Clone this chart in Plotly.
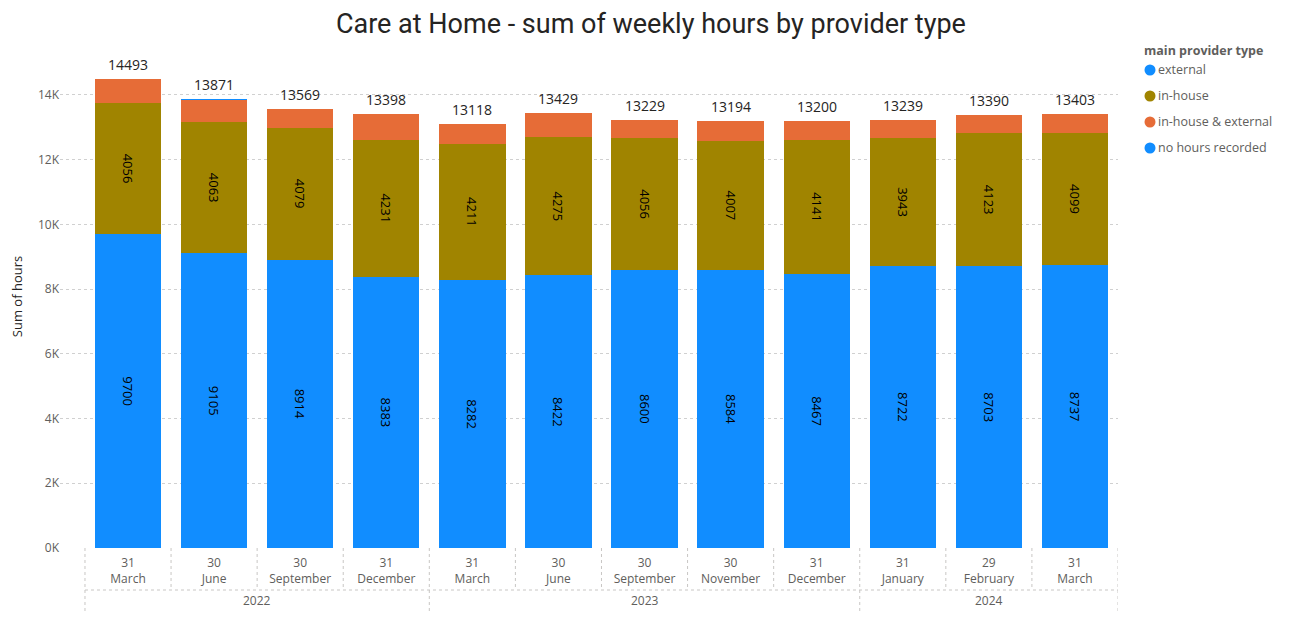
import plotly.graph_objects as go

# ---- data ----
years = ["2022", "2022", "2022", "2022", "2023", "2023", "2023", "2023", "2023", "2024", "2024", "2024"]
days = ["31", "30", "30", "31", "31", "30", "30", "30", "31", "31", "29", "31"]
months = ["March", "June", "September", "December", "March", "June", "September",
          "November", "December", "January", "February", "March"]
external = [9700, 9105, 8914, 8383, 8282, 8422, 8600, 8584, 8467, 8722, 8703, 8737]
in_house = [4056, 4063, 4079, 4231, 4211, 4275, 4056, 4007, 4141, 3943, 4123, 4099]
in_house_external = [737, 700, 576, 784, 625, 732, 573, 603, 592, 574, 564, 567]
no_hours = [0, 3, 0, 0, 0, 0, 0, 0, 0, 0, 0, 0]
series_names = ["external", "in-house", "in-house & external", "no hours recorded"]
y_ticks = [0, 2000, 4000, 6000, 8000, 10000, 12000, 14000]

totals = [a + b + c + d for a, b, c, d in zip(external, in_house, in_house_external, no_hours)]
x = list(range(len(months)))
labels = [f"{d}<br>{m}" for d, m in zip(days, months)]

BLUE = "#118DFF"
OLIVE = "#A08400"
ORANGE = "#E66C37"
GRAY = "#605E5C"
DARK = "#252423"
FONT = "Segoe UI, Open Sans, sans-serif"
colors = [BLUE, OLIVE, ORANGE, BLUE]

# figure geometry (page has an 8px body margin)
OFF = 8
W, H = 1290 - OFF, 619 - OFF
ML, MR, MT, MB = 52, 172, 37, 71
PW, PH = W - ML - MR, H - MT - MB


def px(xp):
    return (xp - OFF - ML) / PW


def py(yp):
    return (H - MB - (yp - OFF)) / PH


fig = go.Figure()
bar_w = 0.77
for vals, nm, col, lab in [(external, series_names[0], BLUE, True),
                           (in_house, series_names[1], OLIVE, True),
                           (in_house_external, series_names[2], ORANGE, False),
                           (no_hours, series_names[3], BLUE, False)]:
    fig.add_trace(go.Bar(x=x, y=vals, name=nm, marker_color=col, width=bar_w,
                         marker_line_width=0,
                         text=[str(v) for v in vals] if lab else None,
                         textposition="inside" if lab else "none",
                         insidetextanchor="middle", textangle=90,
                         textfont=dict(color="#000000", size=13, family=FONT),
                         showlegend=False))

annotations = []
for xi, t in zip(x, totals):
    annotations.append(dict(x=xi, y=t, xref="x", yref="y", text=str(t), showarrow=False,
                            yanchor="bottom", yshift=3,
                            font=dict(size=14, color=DARK, family=FONT)))

# x-axis hierarchical labels / dividers
shapes = []
n = len(x)
for i in range(n + 1):
    pos = i - 0.5
    is_year_edge = i == 0 or i == n or years[i] != years[i - 1]
    shapes.append(dict(type="line", xref="x", yref="paper", x0=pos, x1=pos,
                       y0=0, y1=py(612) if is_year_edge else py(590),
                       line=dict(color="#C8C6C4", width=1, dash="dot")))
shapes.append(dict(type="line", xref="x", yref="paper", x0=-0.5, x1=n - 0.5,
                   y0=py(590), y1=py(590), line=dict(color="#C8C6C4", width=1, dash="dot")))
# frame line at the right
shapes.append(dict(type="line", xref="paper", yref="paper", x0=px(1284), x1=px(1284),
                   y0=py(617), y1=py(9), line=dict(color="#A0A0A0", width=1.5)))

seen = []
for yv in years:
    if yv not in seen:
        seen.append(yv)
for yv in seen:
    idx = [i for i, v in enumerate(years) if v == yv]
    annotations.append(dict(x=sum(idx) / len(idx), y=py(600), xref="x", yref="paper",
                            yanchor="middle", text=yv, showarrow=False,
                            font=dict(size=12, color=GRAY, family=FONT)))

# manual legend
annotations.append(dict(x=px(1142), y=py(50), xref="paper", yref="paper", xanchor="left",
                        yanchor="middle", text="<b>main provider type</b>", showarrow=False,
                        font=dict(size=12.5, color=GRAY, family=FONT)))
for k, (nm, col) in enumerate(zip(series_names, colors)):
    yy = 70 + 26 * k
    shapes.append(dict(type="circle", xref="paper", yref="paper", xsizemode="pixel",
                       ysizemode="pixel", xanchor=px(1150), yanchor=py(yy),
                       x0=-5.5, x1=5.5, y0=-5.5, y1=5.5, fillcolor=col, line_width=0))
    annotations.append(dict(x=px(1156), y=py(yy), xref="paper", yref="paper", xanchor="left",
                            yanchor="middle", text=nm, showarrow=False,
                            font=dict(size=12.5, color=GRAY, family=FONT)))

fig.update_layout(
    width=W, height=H,
    barmode="stack",
    plot_bgcolor="white", paper_bgcolor="white",
    margin=dict(l=ML, r=MR, t=MT, b=MB, autoexpand=False),
    title=dict(text="Care at Home - sum of weekly hours by provider type",
               x=0.5015, xref="container", xanchor="center",
               y=0.99, yref="container", yanchor="top",
               pad=dict(t=0, b=0, l=0, r=0),
               font=dict(family="Roboto, sans-serif", size=27, color=DARK)),
    showlegend=False,
    shapes=shapes,
    annotations=annotations,
    font=dict(family=FONT),
)
fig.update_xaxes(range=[-0.79, n - 0.5], tickmode="array", tickvals=x, ticktext=labels,
                 showgrid=False, zeroline=False, showline=False, ticks="",
                 ticklabelstandoff=6,
                 tickfont=dict(size=12, color=GRAY, family=FONT))
fig.update_yaxes(range=[0, 15545], tickmode="array", tickvals=y_ticks,
                 ticktext=[f"{v // 1000}K" for v in y_ticks],
                 showgrid=True, gridcolor="#D0D0D0", griddash="dot", gridwidth=1,
                 zeroline=False, showline=False,
                 tickfont=dict(size=12, color=GRAY, family=FONT),
                 title=dict(text="Sum of hours", font=dict(size=13, color=DARK, family=FONT),
                            standoff=12))

fig.write_html("out.html")
